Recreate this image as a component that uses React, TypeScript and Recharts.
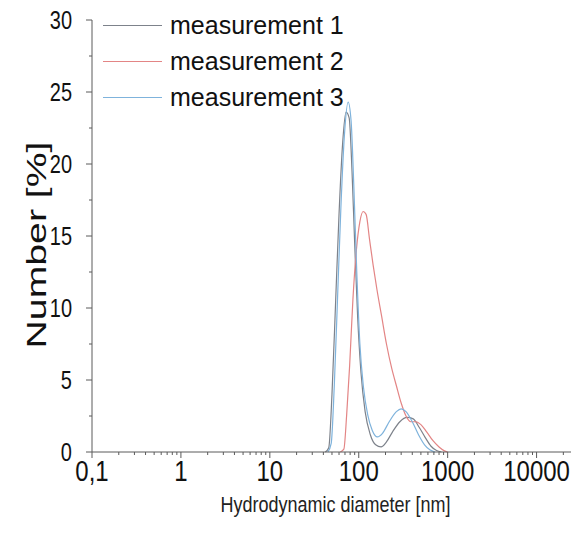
import { LineChart, Line, XAxis, YAxis } from "recharts";

// Number distribution, three DLS measurements (x: diameter in nm, y: %)
const measurement1 = [
  { x: 42, y: 0 }, { x: 46, y: 0.3 }, { x: 50, y: 4 }, { x: 55, y: 10.5 }, { x: 60, y: 16.5 },
  { x: 66, y: 21.5 }, { x: 72, y: 23.6 }, { x: 78, y: 23.2 }, { x: 84, y: 19.5 }, { x: 90, y: 14.5 },
  { x: 97, y: 9.5 }, { x: 106, y: 5.5 }, { x: 118, y: 2.8 }, { x: 135, y: 1.2 }, { x: 155, y: 0.5 },
  { x: 178, y: 0.35 }, { x: 205, y: 0.7 }, { x: 240, y: 1.4 }, { x: 290, y: 2.1 }, { x: 350, y: 2.4 },
  { x: 410, y: 2.3 }, { x: 480, y: 1.7 }, { x: 560, y: 1.0 }, { x: 650, y: 0.4 }, { x: 750, y: 0.1 },
  { x: 850, y: 0 },
];

const measurement2 = [
  { x: 62, y: 0 }, { x: 68, y: 0.2 }, { x: 73, y: 2.5 }, { x: 79, y: 6 }, { x: 86, y: 10.6 },
  { x: 94, y: 14 }, { x: 103, y: 16 }, { x: 112, y: 16.7 }, { x: 121, y: 16.5 }, { x: 132, y: 14.8 },
  { x: 145, y: 13 }, { x: 160, y: 11.3 }, { x: 180, y: 9.5 }, { x: 205, y: 7.5 }, { x: 235, y: 5.8 },
  { x: 265, y: 4.6 }, { x: 300, y: 3.4 }, { x: 340, y: 2.5 }, { x: 385, y: 2.1 }, { x: 440, y: 2.1 },
  { x: 500, y: 1.9 }, { x: 580, y: 1.4 }, { x: 680, y: 0.8 }, { x: 800, y: 0.35 }, { x: 920, y: 0.08 },
  { x: 1000, y: 0 },
];

const measurement3 = [
  { x: 45, y: 0 }, { x: 49, y: 0.6 }, { x: 53, y: 4.5 }, { x: 58, y: 11 }, { x: 63, y: 17 },
  { x: 69, y: 22 }, { x: 76, y: 24.3 }, { x: 82, y: 23 }, { x: 88, y: 18.5 }, { x: 95, y: 12.5 },
  { x: 103, y: 7.5 }, { x: 113, y: 4.5 }, { x: 126, y: 2.6 }, { x: 142, y: 1.5 }, { x: 162, y: 1.05 },
  { x: 185, y: 1.3 }, { x: 220, y: 2.1 }, { x: 265, y: 2.8 }, { x: 300, y: 3.0 }, { x: 340, y: 2.8 },
  { x: 400, y: 2.1 }, { x: 470, y: 1.2 }, { x: 550, y: 0.5 }, { x: 630, y: 0.15 }, { x: 720, y: 0 },
];

const xMajorTicks = [0.1, 1, 10, 100, 1000, 10000];
const xTickLabels = ["0,1", "1", "10", "100", "1000", "10000"];
const yMajorTicks = [0, 5, 10, 15, 20, 25, 30];
const yMinorTicks = [2.5, 7.5, 12.5, 17.5, 22.5, 27.5];

const series = [
  { name: "measurement 1", data: measurement1, color: "#7d828b" },
  { name: "measurement 2", data: measurement2, color: "#e38585" },
  { name: "measurement 3", data: measurement3, color: "#7fb3dc" },
];

// minor log ticks 2..9 in each decade
const xMinorTicks = xMajorTicks.flatMap((dec) =>
  [2, 3, 4, 5, 6, 7, 8, 9].map((m) => +(m * dec).toPrecision(3))
).filter((v) => v < 30000);

const AXIS = "#5a5a5a";
const FONT = "'Liberation Sans', Arial, sans-serif";

const XTick = (props: any) => {
  const { x, y, payload } = props;
  const idx = xMajorTicks.indexOf(payload.value);
  const major = idx >= 0;
  return (
    <g>
      <line x1={x} x2={x} y1={y} y2={y + (major ? 6 : 3)} stroke={AXIS} strokeWidth={1} />
      {major && (
        <text
          transform={`translate(${x},${y + 19}) scale(1,1.2)`}
          textAnchor="middle"
          dy="0.36em"
          fontSize={24}
          fontFamily={FONT}
          fill="#111"
        >
          {xTickLabels[idx]}
        </text>
      )}
    </g>
  );
};

const YTick = (props: any) => {
  const { x, y, payload } = props;
  const major = yMajorTicks.includes(payload.value);
  return (
    <g>
      <line x1={x - (major ? 6 : 3)} x2={x} y1={y} y2={y} stroke={AXIS} strokeWidth={1} />
      {major && (
        <text
          transform={`translate(${x - 20},${y}) scale(1,1.25)`}
          textAnchor="end"
          dy="0.36em"
          fontSize={20}
          fontFamily={FONT}
          fill="#111"
        >
          {payload.value}
        </text>
      )}
    </g>
  );
};

const YLabel = (props: any) => {
  const { viewBox } = props;
  const cy = viewBox.y + viewBox.height / 2 + 9;
  return (
    <text
      transform={`translate(28,${cy}) rotate(-90) scale(1.4,1)`}
      textAnchor="middle"
      dy="0.36em"
      fontSize={28}
      fontFamily={FONT}
      fill="#111"
    >
      Number [%]
    </text>
  );
};

const XLabel = (props: any) => {
  const { viewBox } = props;
  const cx = viewBox.x + viewBox.width / 2;
  return (
    <text
      transform={`translate(${cx},${viewBox.y + 52}) scale(1,1.2)`}
      textAnchor="middle"
      dy="0.36em"
      fontSize={18}
      fontFamily={FONT}
      fill="#222"
    >
      Hydrodynamic diameter [nm]
    </text>
  );
};

const App = () => {
  return (
    <div style={{ position: "relative", width: 571, height: 529 }}>
      <LineChart width={571} height={529} margin={{ top: 12, right: 0, bottom: 0, left: 0 }}>
        <XAxis
          dataKey="x"
          type="number"
          scale="log"
          domain={[0.1, 30000]}
          allowDataOverflow
          ticks={[...xMajorTicks, ...xMinorTicks].sort((a, b) => a - b)}
          interval={0}
          tick={<XTick />}
          tickLine={false}
          tickSize={0}
          tickMargin={0}
          height={85}
          axisLine={{ stroke: AXIS }}
          label={<XLabel />}
        />
        <YAxis
          type="number"
          domain={[0, 30]}
          ticks={[...yMajorTicks, ...yMinorTicks].sort((a, b) => a - b)}
          interval={0}
          tick={<YTick />}
          tickLine={false}
          tickSize={0}
          tickMargin={0}
          width={84}
          axisLine={{ stroke: AXIS }}
          label={<YLabel />}
        />
        {series.map((s) => (
          <Line
            key={s.name}
            data={s.data}
            dataKey="y"
            type="monotone"
            stroke={s.color}
            strokeWidth={1.2}
            dot={false}
            isAnimationActive={false}
          />
        ))}
      </LineChart>
      <div style={{ position: "absolute", left: 95, top: -1, fontFamily: FONT }}>
        {series.map((s) => (
          <div key={s.name} style={{ display: "flex", alignItems: "center", height: 36 }}>
            <div style={{ width: 59, height: 0, borderTop: `1.2px solid ${s.color}`, marginRight: 8 }} />
            <span style={{ fontSize: 25, color: "#111", lineHeight: "36px" }}>{s.name}</span>
          </div>
        ))}
      </div>
    </div>
  );
};

export default App;
